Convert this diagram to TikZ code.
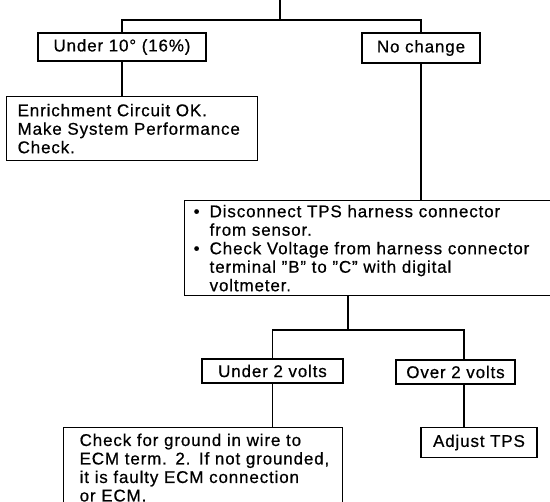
\documentclass[tikz,border=0pt]{standalone}
\usepackage{fontspec}
\setmainfont{Liberation Sans}[LetterSpace=5, FakeBold=0.6]
\begin{document}
\begin{tikzpicture}[x=1pt,y=-1pt,
  box/.style={draw, line width=1.3pt, inner sep=0pt,
    font=\fontsize{17}{18.5}\selectfont},
  textbox/.style={box, anchor=north west, align=left},
  link/.style={line width=1.3pt},
]
\clip (0,0) rectangle (550,502);

% decision boxes
\node[box, minimum width=168pt, minimum height=28pt] (under10) at (122,47) {Under 10° (16\%)};
\node[box, minimum width=118pt, minimum height=30pt] (nochange) at (421,48) {No change};
\node[textbox, minimum width=251pt, minimum height=64pt, inner xsep=11pt, text width=229pt]
  (enrich) at (6,96) {\mbox{Enrichment Circuit OK.}\\\mbox{Make System Performance}\\Check.};
\node[textbox, minimum width=367pt, minimum height=95pt, inner xsep=9pt, text width=349pt]
  (main) at (184,200) {\makebox[16pt][l]{\textbullet}\mbox{Disconnect TPS harness connector}\\
  \hspace*{16pt}\mbox{from sensor.}\\
  \makebox[16pt][l]{\textbullet}\mbox{Check Voltage from harness connector}\\
  \hspace*{16pt}\mbox{terminal "B" to "C" with digital}\\
  \hspace*{16pt}voltmeter.};
\node[box, minimum width=141pt, minimum height=24pt] (under2) at (272.5,371) {Under 2 volts};
\node[box, minimum width=119pt, minimum height=24pt] (over2) at (455.5,372) {Over 2 volts};
\node[textbox, minimum width=279pt, minimum height=80pt, inner xsep=16pt, text width=247pt]
  (check) at (63,427) {\mbox{Check for ground in wire to}\\\mbox{ECM term. 2. If not grounded,}\\\mbox{it is faulty ECM connection}\\\mbox{or ECM.}};
\node[box, minimum width=116pt, minimum height=30pt] (adjust) at (479,442.5) {Adjust TPS};

% branch points
\coordinate (top) at (280,0);
\coordinate (split1) at (280,20);
\coordinate (split2) at (348,330);
\coordinate (b2) at (464,330);

% connectors
\draw[link] (top) -- (split1);
\draw[link] (under10.north) |- (split1) -| (nochange.north);
\draw[link] (under10.south) -- (under10.south |- enrich.north);
\draw[link] (nochange.south) -- (nochange.south |- main.north);
\draw[link] (split2 |- main.south) -- (split2);
\draw[link] (under2.north) |- (split2) -- (b2) -- (b2 |- over2.north);
\draw[link] (under2.south) -- (under2.south |- check.north);
\draw[link] (b2 |- over2.south) -- (b2 |- adjust.north);
\end{tikzpicture}
\end{document}
